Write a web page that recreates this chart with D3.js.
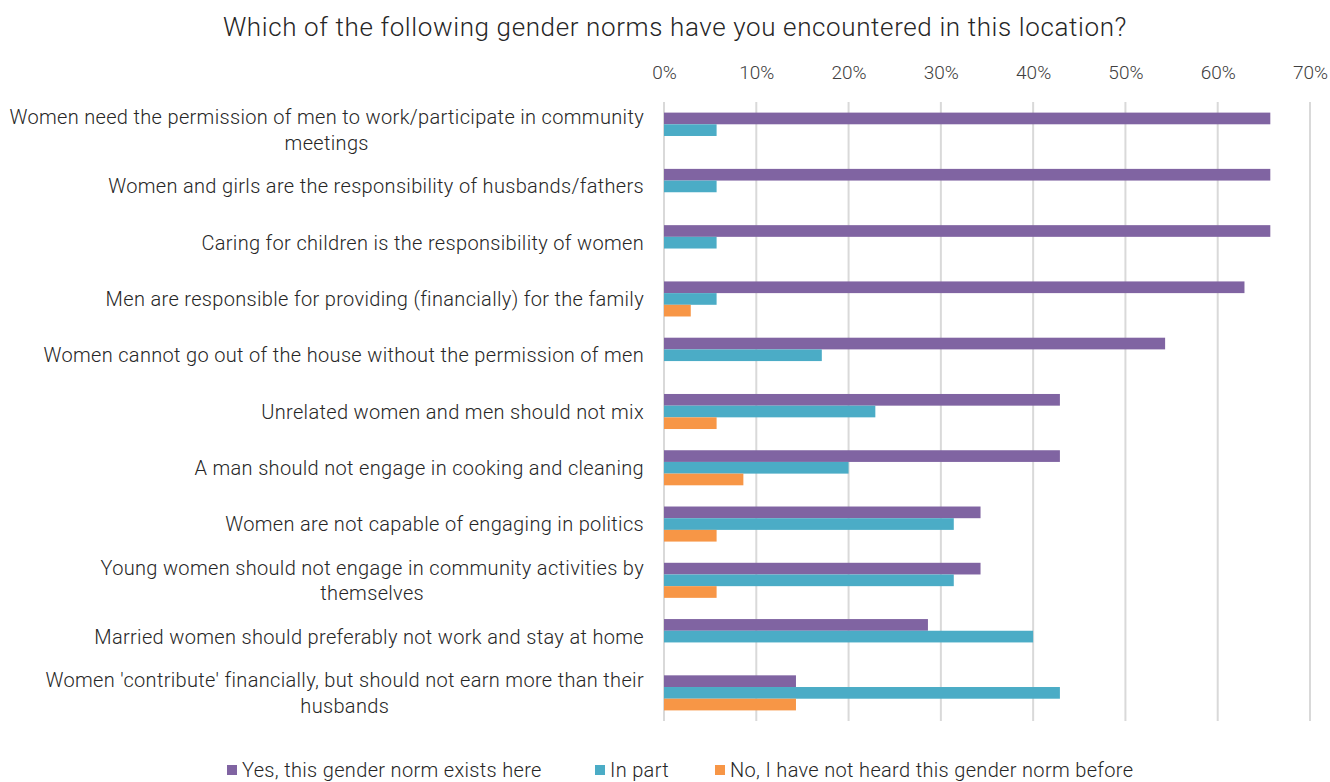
<!DOCTYPE html>
<html>
<head>
<meta charset="utf-8">
<script src="https://cdn.jsdelivr.net/npm/d3@7"></script>
<style>
  html, body { margin: 0; padding: 0; background: #fff; }
  svg { display: block; font-family: Roboto, "Noto Sans", sans-serif; font-weight: 300; }
</style>
</head>
<body>
<svg id="chart" width="1330" height="782"></svg>
<script>
// Survey question and answer categories
const title = "Which of the following gender norms have you encountered in this location?";

const categories = [
  "Women need the permission of men to work/participate in community meetings",
  "Women and girls are the responsibility of husbands/fathers",
  "Caring for children is the responsibility of women",
  "Men are responsible for providing (financially) for the family",
  "Women cannot go out of the house without the permission of men",
  "Unrelated women and men should not mix",
  "A man should not engage in cooking and cleaning",
  "Women are not capable of engaging in politics",
  "Young women should not engage in community activities by themselves",
  "Married women should preferably not work and stay at home",
  "Women 'contribute' financially, but should not earn more than their husbands"
];

const seriesNames = [
  "Yes, this gender norm exists here",
  "In part",
  "No, I have not heard this gender norm before"
];

// Share of respondents (fractions)
const yesValues  = [0.657, 0.657, 0.657, 0.629, 0.543, 0.429, 0.429, 0.343, 0.343, 0.286, 0.143];
const partValues = [0.057, 0.057, 0.057, 0.057, 0.171, 0.229, 0.200, 0.314, 0.314, 0.400, 0.429];
const noValues   = [0.000, 0.000, 0.000, 0.029, 0.000, 0.057, 0.086, 0.057, 0.057, 0.000, 0.143];

const tickValues = [0, 0.1, 0.2, 0.3, 0.4, 0.5, 0.6, 0.7];
const colors = ["#8064A2", "#4BACC6", "#F79646"];

const svg = d3.select("#chart");

const plot = { left: 664, right: 1310, top: 102, bottom: 721 };

const x = d3.scaleLinear().domain([0, 0.7]).range([plot.left, plot.right]);
const y = d3.scaleBand().domain(categories).range([plot.top, plot.bottom]).padding(0);
const groupFrac = 0.623;
const inner = d3.scaleBand()
  .domain(seriesNames)
  .range([0, y.bandwidth() * groupFrac])
  .padding(0);

const textSize = 20;
const textSpacing = 0.33;

// Title
svg.append("text")
  .attr("x", 675).attr("y", 36)
  .attr("text-anchor", "middle")
  .attr("font-size", 26)
  .attr("letter-spacing", 0.62)
  .attr("fill", "#262626")
  .text(title);

// Vertical gridlines
svg.append("g")
  .selectAll("line")
  .data(tickValues)
  .join("line")
  .attr("x1", d => x(d)).attr("x2", d => x(d))
  .attr("y1", plot.top).attr("y2", plot.bottom)
  .attr("stroke", "#d9d9d9")
  .attr("stroke-width", 2);

// Top axis labels
const axis = d3.axisTop(x).tickValues(tickValues).tickFormat(d3.format(".0%")).tickSize(0);
const axisG = svg.append("g")
  .attr("transform", `translate(0, ${plot.top - 20})`)
  .call(axis);
axisG.select(".domain").remove();
axisG.selectAll("text")
  .attr("font-family", "Roboto, sans-serif")
  .attr("font-weight", 300)
  .attr("font-size", 19)
  .attr("fill", "#404040")
  .attr("dy", 0);

// Bars
const series = [yesValues, partValues, noValues];
const groupOffset = (y.bandwidth() - y.bandwidth() * groupFrac) / 2;
series.forEach((vals, si) => {
  svg.append("g")
    .selectAll("rect")
    .data(categories.map((c, i) => ({ c, v: vals[i] })))
    .join("rect")
    .attr("x", x(0))
    .attr("y", d => y(d.c) + groupOffset + inner(seriesNames[si]))
    .attr("width", d => x(d.v) - x(0))
    .attr("height", inner.bandwidth())
    .attr("fill", colors[si]);
});

// Category labels, wrapped to a maximum width
const maxLabelWidth = 638;
const labelX = 644;
const lineH = 25.5;
const labelG = svg.append("g");
categories.forEach(c => {
  const t = labelG.append("text")
    .attr("x", labelX)
    .attr("text-anchor", "end")
    .attr("font-size", textSize)
    .attr("letter-spacing", textSpacing)
    .attr("fill", "#262626");
  const words = c.split(" ");
  const lines = [];
  let cur = [];
  const probe = t.append("tspan");
  words.forEach(w => {
    probe.text(cur.concat([w]).join(" "));
    if (probe.node().getComputedTextLength() > maxLabelWidth && cur.length) {
      lines.push(cur.join(" "));
      cur = [w];
    } else {
      cur.push(w);
    }
  });
  lines.push(cur.join(" "));
  probe.remove();
  const cy = y(c) + y.bandwidth() / 2;
  const y0 = cy - (lines.length - 1) * lineH / 2 + 7;
  lines.forEach((ln, i) => {
    t.append("tspan")
      .attr("x", labelX)
      .attr("y", y0 + i * lineH)
      .text(ln);
  });
  // Continuation lines are centred under the first line
  const spans = t.selectAll("tspan").nodes();
  if (spans.length > 1) {
    const mid = labelX - spans[0].getComputedTextLength() / 2;
    spans.slice(1).forEach(s => d3.select(s).attr("x", mid).attr("text-anchor", "middle"));
  }
});

// Legend
const legendItems = [
  { name: seriesNames[0], color: colors[0], x: 227 },
  { name: seriesNames[1], color: colors[1], x: 595 },
  { name: seriesNames[2], color: colors[2], x: 715 }
];
const lg = svg.append("g");
legendItems.forEach(it => {
  lg.append("rect")
    .attr("x", it.x).attr("y", 765)
    .attr("width", 10).attr("height", 10)
    .attr("fill", it.color);
  lg.append("text")
    .attr("x", it.x + 15).attr("y", 777)
    .attr("font-size", textSize)
    .attr("letter-spacing", textSpacing)
    .attr("fill", "#262626")
    .text(it.name);
});
</script>
</body>
</html>
